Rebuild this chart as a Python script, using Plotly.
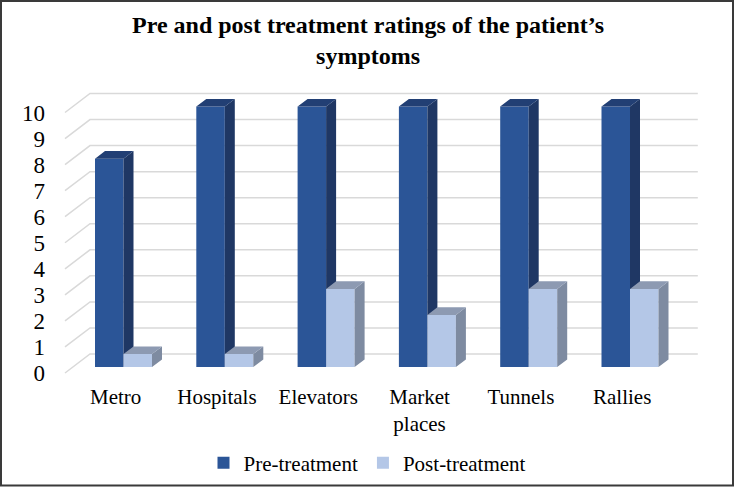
import plotly.graph_objects as go

# ---- data ----
categories = ["Metro", "Hospitals", "Elevators", "Market<br>places", "Tunnels", "Rallies"]
pre_treatment = [8, 10, 10, 10, 10, 10]
post_treatment = [0.5, 0.5, 3, 2, 3, 3]
y_ticks = list(range(0, 11))
series_names = ["Pre-treatment", "Post-treatment"]

# ---- style / geometry ----
W, H = 735, 487
FONT = "Liberation Serif, Times New Roman, serif"
X0PX, UX = 65.0, 101.3      # pixel of x=-0.5 on front plane, px per category
Y0PX, UY = 373.0, 26.05     # pixel of y=0 on front plane, px per unit
DXW, DYW = 25.0 / UX, 19.0 / UY   # wall depth in data units
ZF, ZD = 0.314, 0.40        # bar front depth and bar depth (fraction of wall)
BW = 0.2813                 # bar width in category units

PRE_FRONT, PRE_SIDE, PRE_TOP = "#2B5597", "#1F3764", "#223F74"
POST_FRONT, POST_SIDE, POST_TOP = "#B4C7E7", "#7E8BA1", "#8D9AB2"
GRID = "#D9D9D9"

# plot area in pixels
LPX, RPX, TPX, BPX = 62.0, 704.0, 86.0, 377.0
x_range = [-0.5 - (X0PX - LPX) / UX, -0.5 + (RPX - X0PX) / UX]
y_range = [(Y0PX - BPX) / UY, (Y0PX - TPX) / UY]
x_domain = [LPX / W, RPX / W]
y_domain = [(H - BPX) / H, (H - TPX) / H]


def proj(x, y, z):
    return x + z * DXW, y + z * DYW


fig = go.Figure()

# ---- walls (back gridlines + left wall diagonals) ----
gx, gy = [], []
n = len(categories)
for v in y_ticks:
    for (x, z) in [(-0.5, 0), (-0.5, 1), (n - 0.5, 1)]:
        px, py = proj(x, v, z)
        gx.append(px)
        gy.append(py)
    gx.append(None)
    gy.append(None)
fig.add_trace(go.Scatter(x=gx, y=gy, mode="lines", line=dict(color=GRID, width=1.5),
                         hoverinfo="skip", showlegend=False, xaxis="x", yaxis="y"))


def add_series(values, left_off, name, cf, cs, ct, xa, ya):
    centers, lefts, rights = [], [], []
    for i, v in enumerate(values):
        xl = i + left_off
        xr = xl + BW
        lefts.append(xl)
        rights.append(xr)
        centers.append((xl + xr) / 2 + ZF * DXW)
    fig.add_trace(go.Bar(x=centers, y=values, base=[ZF * DYW] * len(values), width=BW,
                         name=name, marker=dict(color=cf, line=dict(width=0)),
                         xaxis=xa, yaxis=ya, hoverinfo="skip"))
    sx, sy, tx, ty = [], [], [], []
    for xl, xr, v in zip(lefts, rights, values):
        for (x, y, z) in [(xr, 0, ZF), (xr, 0, ZF + ZD), (xr, v, ZF + ZD), (xr, v, ZF), (xr, 0, ZF)]:
            px, py = proj(x, y, z)
            sx.append(px)
            sy.append(py)
        sx.append(None)
        sy.append(None)
        for (x, y, z) in [(xl, v, ZF), (xr, v, ZF), (xr, v, ZF + ZD), (xl, v, ZF + ZD), (xl, v, ZF)]:
            px, py = proj(x, y, z)
            tx.append(px)
            ty.append(py)
        tx.append(None)
        ty.append(None)
    fig.add_trace(go.Scatter(x=sx, y=sy, mode="lines", fill="toself", fillcolor=cs,
                             line=dict(width=0, color=cs), hoverinfo="skip", showlegend=False,
                             xaxis=xa, yaxis=ya))
    fig.add_trace(go.Scatter(x=tx, y=ty, mode="lines", fill="toself", fillcolor=ct,
                             line=dict(width=0, color=ct), hoverinfo="skip", showlegend=False,
                             xaxis=xa, yaxis=ya))


add_series(pre_treatment, -BW, series_names[0], PRE_FRONT, PRE_SIDE, PRE_TOP, "x2", "y2")
add_series(post_treatment, 0.0, series_names[1], POST_FRONT, POST_SIDE, POST_TOP, "x3", "y3")

hidden = dict(visible=False, showgrid=False, zeroline=False, fixedrange=True)

fig.update_layout(
    width=W, height=H,
    margin=dict(l=0, r=0, t=0, b=0),
    paper_bgcolor="white", plot_bgcolor="rgba(0,0,0,0)",
    font=dict(family=FONT, color="#000000"),
    barmode="overlay",
    xaxis=dict(domain=x_domain, range=x_range, tickmode="array",
               tickvals=list(range(n)), ticktext=categories,
               showgrid=False, zeroline=False, showline=False, ticks="",
               ticklabelstandoff=5, tickfont=dict(family=FONT, size=21, color="#000"),
               automargin=False, fixedrange=True),
    yaxis=dict(domain=y_domain, range=y_range, tickmode="array",
               tickvals=y_ticks, ticktext=[str(v) for v in y_ticks],
               showgrid=False, zeroline=False, showline=False, ticks="",
               ticklabelstandoff=16, tickfont=dict(family=FONT, size=23, color="#000"),
               automargin=False, fixedrange=True),
    xaxis2=dict(overlaying="x", range=x_range, **hidden),
    yaxis2=dict(overlaying="y", range=y_range, **hidden),
    xaxis3=dict(overlaying="x", range=x_range, **hidden),
    yaxis3=dict(overlaying="y", range=y_range, **hidden),
    legend=dict(orientation="h", x=0.5, xanchor="center", y=(H - 463) / H, yanchor="middle",
                font=dict(family=FONT, size=21, color="#000"), bgcolor="rgba(0,0,0,0)",
                itemwidth=30, traceorder="normal"),
    annotations=[dict(text="<b>Pre and post treatment ratings of the patient’s<br>symptoms</b>",
                      x=0.5, xref="paper", xanchor="center",
                      y=(H - 10) / H, yref="paper", yanchor="top",
                      showarrow=False, font=dict(family=FONT, size=24, color="#000"))],
    shapes=[dict(type="rect", xref="paper", yref="paper",
                 x0=1 / W, x1=(W - 2) / W, y0=1.5 / H, y1=(H - 1) / H,
                 line=dict(color="#3A3A3A", width=2), fillcolor="rgba(0,0,0,0)", layer="above")],
    showlegend=True,
)

fig.write_html("out.html")
